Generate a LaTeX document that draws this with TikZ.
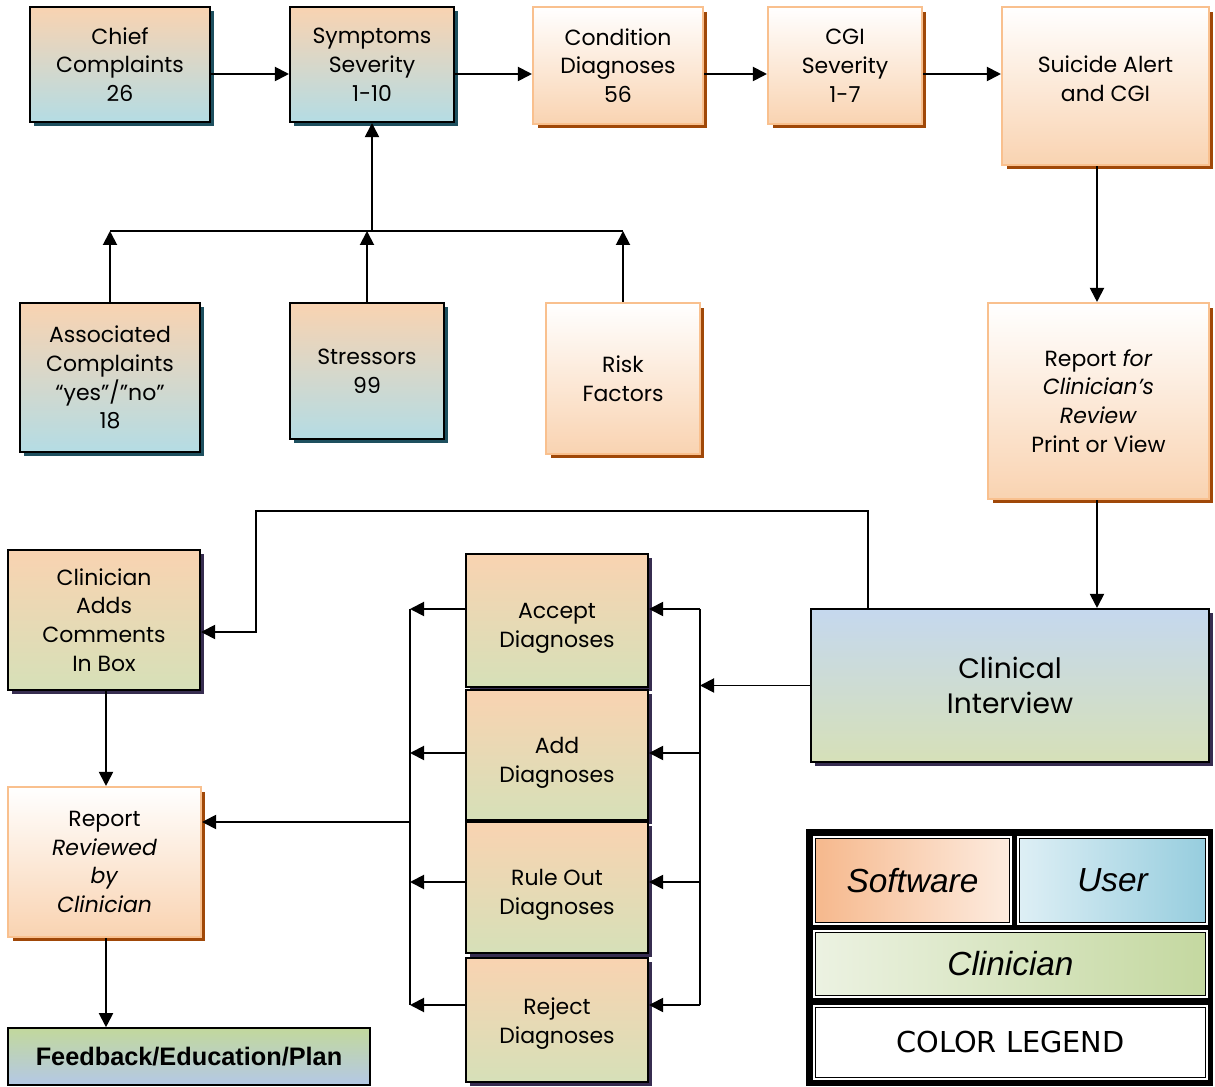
\documentclass[tikz,border=0pt]{standalone}
\usepackage{fontspec}
\setmainfont{Poppins}
\newfontfamily\legfont{Liberation Sans}
\newfontfamily\titlefont{DejaVu Sans}
\usetikzlibrary{arrows.meta,shadows}

\definecolor{peach}{RGB}{249,211,177}
\definecolor{userblue}{RGB}{180,220,228}
\definecolor{usershade}{RGB}{30,80,95}
\definecolor{softline}{RGB}{249,192,142}
\definecolor{softshade}{RGB}{160,72,8}
\definecolor{clingreen}{RGB}{214,224,184}
\definecolor{clinshade}{RGB}{55,45,80}
\definecolor{interblue}{RGB}{197,216,238}
\definecolor{feedgreen}{RGB}{194,216,156}
\definecolor{feedblue}{RGB}{180,200,230}
\definecolor{legorange}{RGB}{246,184,140}
\definecolor{leglight}{RGB}{253,236,224}
\definecolor{legblue}{RGB}{150,205,222}
\definecolor{legpale}{RGB}{222,239,245}
\definecolor{leggreen}{RGB}{196,216,160}
\definecolor{legpalegreen}{RGB}{236,242,226}

\begin{document}
\begin{tikzpicture}[
    x=0.02cm, y=-0.02cm,
    every node/.style={font=\fontsize{12.5}{16.4}\selectfont, align=center, inner sep=0pt},
    user/.style={draw=black, line width=1.2pt, top color=peach, bottom color=userblue,
        drop shadow={shadow xshift=0.08cm, shadow yshift=-0.08cm, fill=usershade, opacity=1}},
    soft/.style={draw=softline, line width=1.2pt, top color=white, bottom color=peach,
        drop shadow={shadow xshift=0.09cm, shadow yshift=-0.09cm, fill=softshade, opacity=1}},
    clin/.style={draw=black, line width=1.2pt, top color=peach, bottom color=clingreen,
        drop shadow={shadow xshift=0.08cm, shadow yshift=-0.08cm, fill=clinshade, opacity=1}},
    diag/.style={clin, minimum width=3.64cm, text height=1.2cm},
    flow/.style={-{Triangle[length=2.8mm, width=2.8mm]}, line width=1.1pt},
    bus/.style={line width=1.1pt},
    legcell/.style={draw=black, line width=0.6pt, double=white, double distance=0.8pt,
        font=\legfont\itshape\fontsize{19}{22}\selectfont}
]
\useasboundingbox (0,0) rectangle (1215,1087);

% top row
\node[user, minimum width=3.6cm, minimum height=2.3cm] (chief) at (120,64.5) {Chief\\Complaints\\26};
\node[user, minimum width=3.28cm, minimum height=2.3cm] (symp) at (372,64.5) {Symptoms\\Severity\\1-10};
\node[soft, minimum width=3.4cm, minimum height=2.34cm] (cond) at (618,65.5) {Condition\\Diagnoses\\56};
\node[soft, minimum width=3.08cm, minimum height=2.34cm] (cgi) at (845,65.5) {CGI\\Severity\\1-7};
\node[soft, minimum width=4.14cm, minimum height=3.16cm, text depth=0.29cm] (suicide) at (1105.5,86) {Suicide Alert\\and CGI};

% second row
\node[user, minimum width=3.6cm, minimum height=2.98cm] (assoc) at (110,377.5) {Associated\\Complaints\\“yes”/”no”\\18};
\node[user, minimum width=3.08cm, minimum height=2.72cm] (stress) at (367,371) {Stressors\\99};
\node[soft, minimum width=3.08cm, minimum height=3.02cm] (risk) at (623,378.5) {Risk\\Factors};
\node[soft, minimum width=4.42cm, minimum height=3.92cm] (report) at (1098.5,401) {Report \textit{for}\\\textit{Clinician’s}\\\textit{Review}\\Print or View};

% clinician part
\node[draw=black, line width=1.2pt, top color=interblue, bottom color=clingreen,
    drop shadow={shadow xshift=0.08cm, shadow yshift=-0.08cm, fill=clinshade, opacity=1},
    minimum width=7.96cm, minimum height=3.06cm, font=\fontsize{16}{20.4}\selectfont] (interview) at (1010,685.5) {Clinical\\Interview};
\node[clin, minimum width=3.84cm, minimum height=2.8cm] (adds) at (104,620) {Clinician\\Adds\\Comments\\In Box};
\node[diag, minimum height=2.66cm] (accept) at (557,620.5) {Accept\\Diagnoses};
\node[diag, minimum height=2.6cm] (addd) at (557,755) {Add\\Diagnoses};
\node[diag, minimum height=2.62cm] (rule) at (557,887.5) {Rule Out\\Diagnoses};
\node[diag, minimum height=2.48cm, text height=1.06cm] (reject) at (557,1020) {Reject\\Diagnoses};
\node[soft, minimum width=3.86cm, minimum height=3.0cm] (reviewed) at (104.5,862) {Report\\\textit{Reviewed}\\\textit{by}\\\textit{Clinician}};
\node[draw=black, line width=0.9pt, top color=feedgreen, bottom color=feedblue,
    minimum width=7.24cm, minimum height=1.14cm, font=\legfont\bfseries\fontsize{14.4}{17}\selectfont] (feedback) at (189,1056.5) {Feedback/Education/Plan};

% legend
\node[fill=black, minimum width=8.14cm, minimum height=5.14cm] (legframe) at (1009.5,957.5) {};
\node[legcell, left color=legorange, right color=leglight, minimum width=3.94cm, minimum height=1.74cm] (legsoft) at (912.5,880.5) {Software};
\node[legcell, left color=legpale, right color=legblue, minimum width=3.78cm, minimum height=1.74cm] (leguser) at (1112.5,880.5) {User};
\node[legcell, left color=legpalegreen, right color=leggreen, minimum width=7.86cm, minimum height=1.32cm] (legclin) at (1010.5,964) {Clinician};
\node[legcell, fill=white, minimum width=7.86cm, minimum height=1.46cm, font=\titlefont\fontsize{16.4}{20}\selectfont] (legtitle) at (1010.5,1042.5) {COLOR LEGEND};

% helper rows and buses
\coordinate (rowA) at (0,74);
\coordinate (bus) at (0,231);
\coordinate (loopT) at (868,511);
\coordinate (loopL) at (256,511);
\coordinate (rbus) at (700,0);
\coordinate (lbus) at (410,0);
\coordinate (colR) at (1097,0);
\coordinate (colL) at (106,0);
\coordinate (r1) at (0,609);
\coordinate (r2) at (0,753);
\coordinate (r3) at (0,882);
\coordinate (r4) at (0,1005);
\coordinate (r5) at (0,822);

\draw[flow] (chief.east |- rowA) -- (symp.west |- rowA);
\draw[flow] (symp.east |- rowA) -- (cond.west |- rowA);
\draw[flow] (cond.east |- rowA) -- (cgi.west |- rowA);
\draw[flow] (cgi.east |- rowA) -- (suicide.west |- rowA);
\draw[flow] (suicide.south -| colR) -- (report.north -| colR);
\draw[flow] (report.south -| colR) -- (interview.north -| colR);

\draw[flow] (assoc.north) -- (assoc.north |- bus);
\draw[flow] (stress.north) -- (stress.north |- bus);
\draw[flow] (risk.north) -- (risk.north |- bus);
\draw[bus] (assoc.north |- bus) -- (risk.north |- bus);
\draw[flow] (symp.south |- bus) -- (symp.south);

\draw[flow] (interview.north -| loopT) -- (loopT) -- (loopL) |- ([yshift=-0.24cm]adds.east);
\draw[flow] (interview.west) -- (interview.west -| rbus);
\draw[bus] (rbus |- r1) -- (rbus |- r4);
\draw[bus] (lbus |- r1) -- (lbus |- r4);
\foreach \r/\b in {r1/accept, r2/addd, r3/rule, r4/reject} {
    \draw[flow] (rbus |- \r) -- (\b.east |- \r);
    \draw[flow] (\b.west |- \r) -- (lbus |- \r);
}
\draw[flow] (lbus |- r5) -- (reviewed.east |- r5);
\draw[flow] (adds.south -| colL) -- (reviewed.north -| colL);
\draw[flow] (reviewed.south -| colL) -- (feedback.north -| colL);
\end{tikzpicture}
\end{document}
